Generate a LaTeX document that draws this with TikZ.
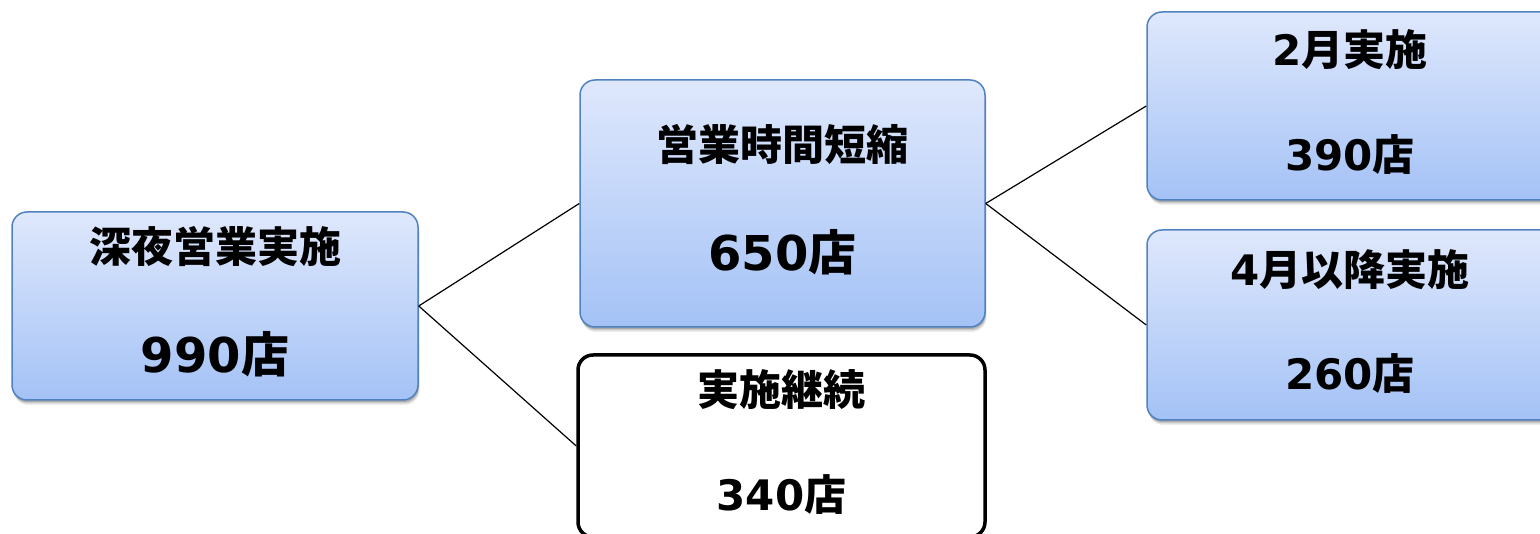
\documentclass[tikz,border=0pt]{standalone}
\usepackage{fontspec}
\setmainfont{DejaVu Sans}
\newfontfamily\cjk{Noto Sans CJK JP Bold}
\usetikzlibrary{shadows}
\definecolor{topblue}{HTML}{DFE8FC}
\definecolor{botblue}{HTML}{A4C2F6}
\definecolor{edgeblue}{HTML}{5082C0}
\newcommand\jtext[1]{{\cjk #1}}
\tikzset{
  bluebox/.style={rectangle, rounded corners=15pt, draw=edgeblue, line width=1.5pt,
    top color=topblue, bottom color=botblue, inner sep=0pt,
    drop shadow={shadow xshift=1.5pt, shadow yshift=-5pt, fill=black, opacity=0.08},
    drop shadow={shadow xshift=1pt, shadow yshift=-3.5pt, fill=black, opacity=0.14},
    drop shadow={shadow xshift=0.5pt, shadow yshift=-2pt, fill=black, opacity=0.16}},
  whitebox/.style={rectangle, rounded corners=15pt, draw=black, line width=3.5pt,
    fill=white, inner sep=0pt},
  ttl/.style={font=\fontsize{42}{50}\selectfont\bfseries, inner sep=0pt},
  num/.style={font=\fontsize{42}{50}\selectfont\bfseries, inner sep=0pt},
  bignum/.style={font=\fontsize{48}{56}\selectfont\bfseries, inner sep=0pt},
  link/.style={draw=black, line width=1.2pt}
}
\begin{document}
\begin{tikzpicture}[x=1pt, y=-1pt]
\useasboundingbox (0,0) rectangle (1540,534);
\clip (0,0) rectangle (1540,534);
% boxes
\node[bluebox, minimum width=406pt, minimum height=188pt] (a) at (215,306) {};
\node[bluebox, minimum width=405pt, minimum height=247pt] (b) at (782.5,203.5) {};
\node[whitebox, minimum width=407pt, minimum height=182pt] (c) at (781.5,446) {};
\node[bluebox, minimum width=413pt, minimum height=188pt] (d) at (1353.5,106) {};
\node[bluebox, minimum width=413pt, minimum height=190pt] (e) at (1353.5,325) {};
% texts
\node[ttl] (a1) at (215,247) {\jtext{深夜営業実施}};
\node[bignum] (a2) at (215,354) {990\jtext{店}};
\node[ttl] (b1) at (782.5,145) {\jtext{営業時間短縮}};
\node[bignum] (b2) at (782.5,252) {650\jtext{店}};
\node[ttl] (c1) at (781.5,390) {\jtext{実施継続}};
\node[num] (c2) at (781.5,495) {340\jtext{店}};
\node[ttl] (d1) at (1350,50) {2\jtext{月実施}};
\node[num] (d2) at (1350,155) {390\jtext{店}};
\node[ttl] (e1) at (1350,270) {4\jtext{月以降実施}};
\node[num] (e2) at (1350,374) {260\jtext{店}};
% connectors
\draw[link] (a.east) -- (b.west);
\draw[link] (a.east) -- (c.west);
\draw[link] (b.east) -- (d.west);
\draw[link] (b.east) -- (e.west);
\end{tikzpicture}
\end{document}
